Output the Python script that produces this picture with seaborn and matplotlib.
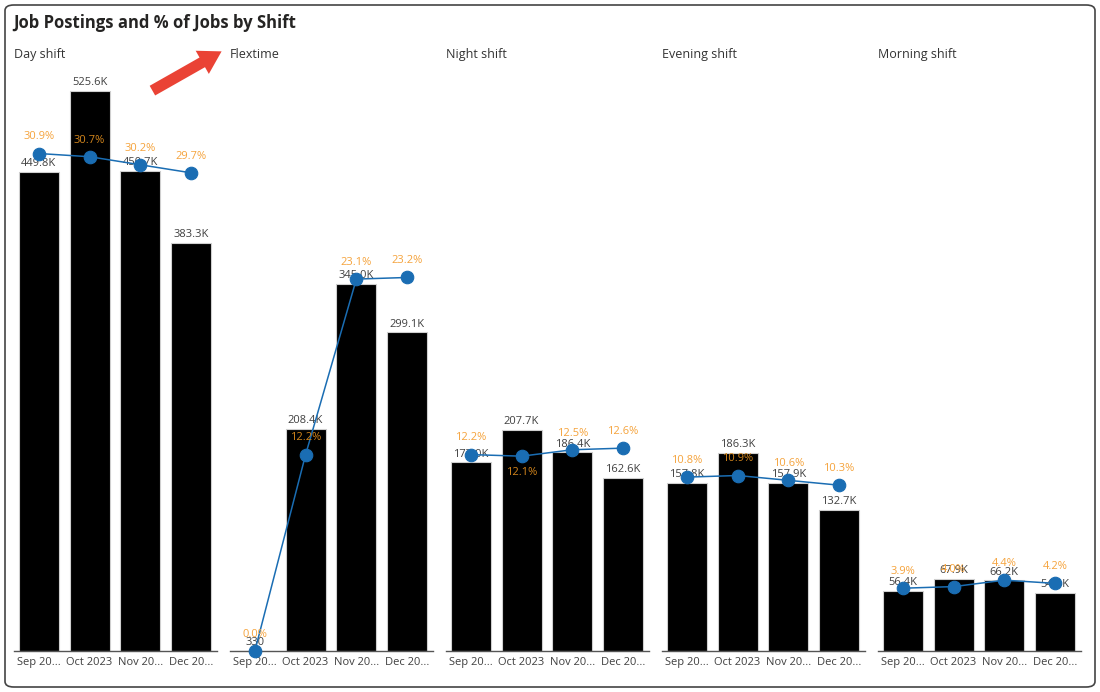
import matplotlib
matplotlib.use("Agg")
import matplotlib.pyplot as plt
from matplotlib.patches import FancyBboxPatch
import seaborn as sns
import pandas as pd

shifts = ["Day shift", "Flextime", "Night shift", "Evening shift", "Morning shift"]
months = ["Sep 20...", "Oct 2023", "Nov 20...", "Dec 20..."]
postings = {
    "Day shift": [449.8, 525.6, 450.7, 383.3],
    "Flextime": [0.33, 208.4, 345.0, 299.1],
    "Night shift": [177.0, 207.7, 186.4, 162.6],
    "Evening shift": [157.8, 186.3, 157.9, 132.7],
    "Morning shift": [56.4, 67.9, 66.2, 54.6],
}
posting_labels = {
    "Day shift": ["449.8K", "525.6K", "450.7K", "383.3K"],
    "Flextime": ["330", "208.4K", "345.0K", "299.1K"],
    "Night shift": ["177.0K", "207.7K", "186.4K", "162.6K"],
    "Evening shift": ["157.8K", "186.3K", "157.9K", "132.7K"],
    "Morning shift": ["56.4K", "67.9K", "66.2K", "54.6K"],
}
pct = {
    "Day shift": [30.9, 30.7, 30.2, 29.7],
    "Flextime": [0.0, 12.2, 23.1, 23.2],
    "Night shift": [12.2, 12.1, 12.5, 12.6],
    "Evening shift": [10.8, 10.9, 10.6, 10.3],
    "Morning shift": [3.9, 4.0, 4.4, 4.2],
}
# +1: label above the point, -1: below
pct_label_side = {
    "Day shift": [1, 1, 1, 1],
    "Flextime": [1, 1, 1, 1],
    "Night shift": [1, -1, 1, 1],
    "Evening shift": [1, 1, 1, 1],
    "Morning shift": [1, 1, 1, 1],
}

sns.set_theme(style="white")
plt.rcParams["font.family"] = ["Open Sans", "DejaVu Sans"]

W, H = 1100, 692
fig = plt.figure(figsize=(W / 100, H / 100), dpi=100)

border = FancyBboxPatch((5 / W, 5 / H), 1090 / W, 682 / H,
                        boxstyle="round,pad=0,rounding_size=0.008",
                        transform=fig.transFigure, fill=False,
                        edgecolor="#444444", linewidth=1.2)
fig.patches.append(border)

fig.text(13 / W, 1 - 23 / H, "Job Postings and % of Jobs by Shift",
         fontsize=12, fontweight="bold", color="#252423", va="center", ha="left")

base_y = 651
top_y = 80
ax_h = (base_y - top_y) / H
bar_max = (base_y - top_y) / 1.065
pct_max = (base_y - top_y) / 16.1

line_color = "#1a6db3"
orange = "#f5a33c"
dark_orange = "#d4861c"

for i, shift in enumerate(shifts):
    left = 13.5 + i * 216
    ax = fig.add_axes([left / W, 1 - base_y / H, 203 / W, ax_h])
    df = pd.DataFrame({"month": months, "postings": postings[shift], "pct": pct[shift]})
    sns.barplot(data=df, x="month", y="postings", color="black", width=0.79,
                edgecolor="#cfcfcf", linewidth=0.8, saturation=1, ax=ax)
    ax.set_ylim(0, bar_max)
    ax.set_xlim(-0.5, 3.5)
    ax.bar_label(ax.containers[0], labels=posting_labels[shift], padding=2,
                 fontsize=8, color="#404040")
    ax.set_xlabel("")
    ax.set_ylabel("")
    ax.set_yticks([])
    ax.tick_params(axis="x", length=0, pad=4, labelsize=8, labelcolor="#404040")
    for s in ["top", "left", "right"]:
        ax.spines[s].set_visible(False)
    ax.spines["bottom"].set_color("#555555")
    ax.spines["bottom"].set_linewidth(1.0)

    ax2 = ax.twinx()
    sns.pointplot(data=df, x="month", y="pct", color=line_color, markers="o",
                  markersize=9, linewidth=1.1, ax=ax2)
    ax2.set_ylim(0, pct_max)
    ax2.set_xlim(-0.5, 3.5)
    ax2.set_yticks([])
    ax2.set_ylabel("")
    ax2.set_xlabel("")
    for s in ["top", "left", "right", "bottom"]:
        ax2.spines[s].set_visible(False)
    for c in ax2.collections:
        c.set_clip_on(False)
    for ln in ax2.lines:
        ln.set_clip_on(False)
    for j, v in enumerate(pct[shift]):
        side = pct_label_side[shift][j]
        label_px = base_y - v * 16.1 - side * 16
        bar_top_px = base_y - postings[shift][j] * 1.065
        col = dark_orange if label_px > bar_top_px + 4 else orange
        ax2.annotate(f"{v:.1f}%", (j, v), xytext=(0, 12 * side), textcoords="offset points",
                     ha="center", va="center", fontsize=8, color=col)

    fig.text(left / W, 1 - 58 / H, shift, fontsize=9, color="#333333",
             va="baseline", ha="left")

fig.patches.append(matplotlib.patches.FancyArrowPatch(
    (150 / W, 1 - 92 / H), (224 / W, 1 - 50 / H), transform=fig.transFigure,
    arrowstyle="simple,head_width=1.2,head_length=1.0,tail_width=0.5",
    mutation_scale=16, color="#ea4335", linewidth=0))

fig.savefig("out.png", dpi=100)
